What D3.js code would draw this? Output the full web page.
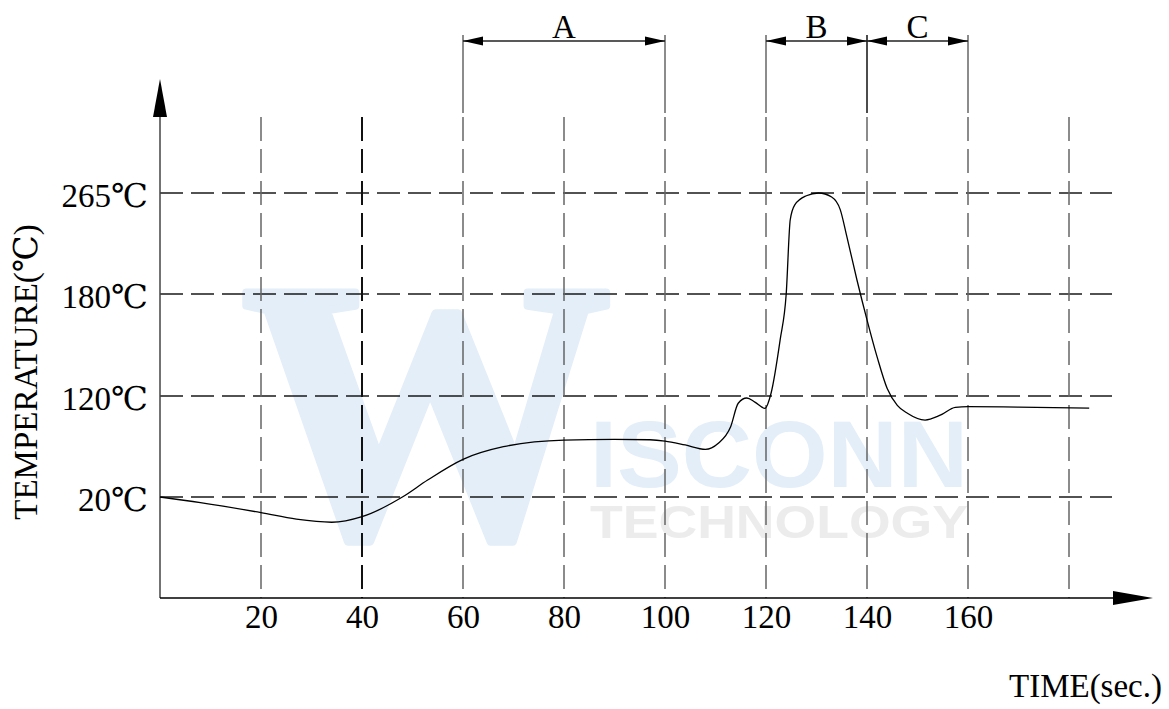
<!DOCTYPE html>
<html>
<head>
<meta charset="utf-8">
<script src="https://cdn.jsdelivr.net/npm/d3@7"></script>
<style>
  html, body { margin: 0; padding: 0; background: #fff; }
  svg { display: block; }
</style>
</head>
<body>
<div class="chart"></div>
<script>
// reflow profile
var time = [0, 8, 20, 27, 34, 40, 48, 53, 60, 68, 80, 90, 97, 100, 104, 108, 110.5, 113, 114.5, 116.2, 117.8, 119.8, 121, 122.8, 124, 124.8, 125.7, 128, 130.4, 133, 134.7, 136, 138, 140, 142, 144, 146, 148, 151.5, 154.5, 157.5, 160, 170, 184];
var temp = [20, 18.9, 16.9, 15.6, 15.0, 16.1, 20, 36.8, 57.3, 69.8, 76.4, 77, 76.7, 75.4, 71.5, 67.2, 73, 89.6, 112.8, 118, 114, 107.8, 121.6, 153, 180, 242.5, 255, 262.7, 265, 261.6, 251, 228.5, 192, 164.8, 143, 124.4, 110.8, 102.9, 96.2, 101, 108.8, 109.4, 109, 108];

var xTicks = [20, 40, 60, 80, 100, 120, 140, 160];
var xGrid = [20, 40, 60, 80, 100, 120, 140, 160, 180];
var yTicks = [20, 120, 180, 265];
var yTickLabels = ["20℃", "120℃", "180℃", "265℃"];

// zones above the chart
var zoneLabels = ["A", "B", "C"];
var zoneStart = [60, 120, 140];
var zoneEnd = [100, 140, 160];

var width = 1169, height = 709;
var font = "'Liberation Serif', 'DejaVu Serif', 'Times New Roman', serif";
var axisY = 598;
var gridTop = 117;
var dimY = 41;

var svg = d3.select(".chart").append("svg")
	.attr("width", width)
	.attr("height", height);

// scales - temperature levels are evenly spaced, not linear
var xScale = d3.scaleLinear()
	.domain([0, 180])
	.range([160, 1069]);
var yScale = d3.scaleLinear()
	.domain([0, 20, 120, 180, 265])
	.range([axisY, 497, 396, 294, 193]);

//------------------------------------------------
// watermark
var wm = svg.append("g").attr("class", "watermark");
wm.append("text")
	.attr("x", 241).attr("y", 536)
	.attr("font-family", font)
	.attr("font-weight", "bold")
	.attr("font-size", 372)
	.attr("textLength", 371)
	.attr("lengthAdjust", "spacingAndGlyphs")
	.attr("fill", "#e3eef8")
	.attr("stroke", "#e3eef8")
	.attr("stroke-width", 8)
	.attr("stroke-linejoin", "round")
	.text("W");
wm.append("text")
	.attr("x", 590).attr("y", 487)
	.attr("font-family", "'Liberation Sans', Arial, sans-serif")
	.attr("font-weight", "bold")
	.attr("font-size", 94)
	.attr("textLength", 378)
	.attr("lengthAdjust", "spacingAndGlyphs")
	.attr("fill", "#e3eef8")
	.text("ISCONN");
wm.append("text")
	.attr("x", 590).attr("y", 538)
	.attr("font-family", "'Liberation Sans', Arial, sans-serif")
	.attr("font-weight", "bold")
	.attr("font-size", 46)
	.attr("textLength", 378)
	.attr("lengthAdjust", "spacingAndGlyphs")
	.attr("fill", "#ececec")
	.text("TECHNOLOGY");

//------------------------------------------------
// grid
svg.append("g").selectAll("line")
	.data(yTicks)
	.enter().append("line")
	.attr("x1", xScale(0))
	.attr("x2", 1112)
	.attr("y1", function (d) { return yScale(d); })
	.attr("y2", function (d) { return yScale(d); })
	.attr("stroke", "#1a1a1a")
	.attr("stroke-width", 1.4)
	.attr("stroke-dasharray", "23,8");

svg.append("g").selectAll("line")
	.data(xGrid)
	.enter().append("line")
	.attr("x1", function (d) { return xScale(d); })
	.attr("x2", function (d) { return xScale(d); })
	.attr("y1", gridTop)
	.attr("y2", axisY)
	.attr("stroke", function (d) { return d == 40 ? "#111" : "#666"; })
	.attr("stroke-width", function (d) { return d == 40 ? 2 : 1.5; })
	.attr("stroke-dasharray", "24,8");

//------------------------------------------------
// axes with arrows
svg.append("line")
	.attr("x1", xScale(0)).attr("x2", xScale(0))
	.attr("y1", axisY).attr("y2", gridTop)
	.attr("stroke", "#444").attr("stroke-width", 1.5);
svg.append("path")
	.attr("d", "M" + xScale(0) + ",79 L" + (xScale(0) - 7) + "," + gridTop + " L" + (xScale(0) + 7) + "," + gridTop + "Z")
	.attr("fill", "#000");

svg.append("line")
	.attr("x1", xScale(0)).attr("x2", 1113)
	.attr("y1", axisY).attr("y2", axisY)
	.attr("stroke", "#000").attr("stroke-width", 1.5);
svg.append("path")
	.attr("d", "M1153," + axisY + " L1113," + (axisY - 7) + " L1113," + (axisY + 7) + "Z")
	.attr("fill", "#000");

// tick labels through d3 axes
var xAxis = d3.axisBottom(xScale)
	.tickValues(xTicks)
	.tickSize(0)
	.tickPadding(7);
var gx = svg.append("g")
	.attr("transform", "translate(0," + axisY + ")")
	.call(xAxis)
	.attr("font-family", font)
	.attr("font-size", 33);
gx.select(".domain").remove();
gx.selectAll("text")
	.attr("font-family", font)
	.attr("font-size", 33)
	.attr("fill", "#000");

var yAxis = d3.axisLeft(yScale)
	.tickValues(yTicks)
	.tickFormat(function (d, i) { return yTickLabels[i]; })
	.tickSize(0)
	.tickPadding(12);
var gy = svg.append("g")
	.attr("transform", "translate(" + xScale(0) + ",0)")
	.call(yAxis)
	.attr("font-family", font)
	.attr("font-size", 33);
gy.select(".domain").remove();
gy.selectAll("text")
	.attr("font-family", font)
	.attr("font-size", 33)
	.attr("dy", "0.4em")
	.attr("fill", "#000");

// axis titles
svg.append("text")
	.attr("transform", "translate(37,372) rotate(-90)")
	.attr("text-anchor", "middle")
	.attr("font-family", font)
	.attr("font-size", 33)
	.text("TEMPERATURE(℃)");
svg.append("text")
	.attr("x", 1162).attr("y", 697)
	.attr("text-anchor", "end")
	.attr("font-family", font)
	.attr("font-size", 33)
	.text("TIME(sec.)");

//------------------------------------------------
// zone dimension lines A, B, C
var defs = svg.append("defs");
defs.append("marker")
	.attr("id", "arr")
	.attr("viewBox", "0 0 20 10")
	.attr("refX", 20).attr("refY", 5)
	.attr("markerWidth", 20).attr("markerHeight", 10)
	.attr("markerUnits", "userSpaceOnUse")
	.attr("orient", "auto-start-reverse")
	.append("path")
	.attr("d", "M0,0.5 L20,5 L0,9.5Z")
	.attr("fill", "#000");

var zoneEdges = Array.from(d3.union(zoneStart, zoneEnd));
svg.append("g").selectAll("line")
	.data(zoneEdges)
	.enter().append("line")
	.attr("x1", function (d) { return xScale(d); })
	.attr("x2", function (d) { return xScale(d); })
	.attr("y1", 35)
	.attr("y2", 113)
	.attr("stroke", function (d) { return d == 140 ? "#111" : "#666"; })
	.attr("stroke-width", 1.5);

var zones = svg.append("g");
zones.selectAll("line")
	.data(zoneLabels)
	.enter().append("line")
	.attr("x1", function (d, i) { return xScale(zoneStart[i]); })
	.attr("x2", function (d, i) { return xScale(zoneEnd[i]); })
	.attr("y1", dimY).attr("y2", dimY)
	.attr("stroke", "#222")
	.attr("stroke-width", 1.3)
	.attr("marker-start", "url(#arr)")
	.attr("marker-end", "url(#arr)");
zones.selectAll("text")
	.data(zoneLabels)
	.enter().append("text")
	.attr("x", function (d, i) { return (xScale(zoneStart[i]) + xScale(zoneEnd[i])) / 2; })
	.attr("y", 38)
	.attr("text-anchor", "middle")
	.attr("font-family", font)
	.attr("font-size", 33)
	.text(function (d) { return d; });

//------------------------------------------------
// profile curve
var line = d3.line()
	.x(function (d, i) { return xScale(time[i]); })
	.y(function (d) { return yScale(d); })
	.curve(d3.curveMonotoneX);

svg.append("path")
	.datum(temp)
	.attr("d", line)
	.attr("fill", "none")
	.attr("stroke", "#000")
	.attr("stroke-width", 1.3);
</script>
</body>
</html>
